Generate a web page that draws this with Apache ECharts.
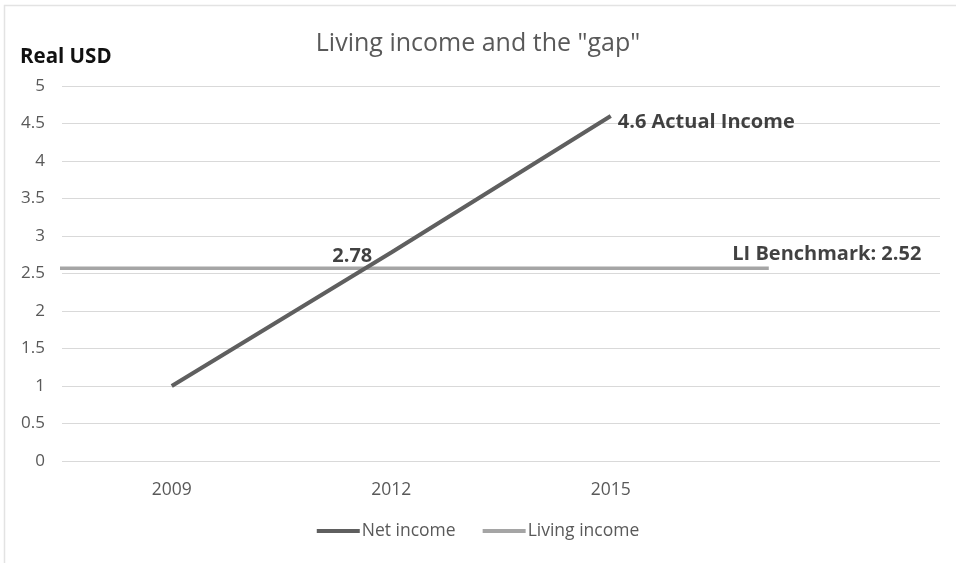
<!DOCTYPE html>
<html><head><meta charset="utf-8">
<script src="https://cdn.jsdelivr.net/npm/echarts@6/dist/echarts.min.js"></script>
<style>html,body{margin:0;padding:0;background:#fff}#c{width:956px;height:563px}</style>
</head><body><div id="c"></div>
<script>
const categories = ['2009', '2012', '2015', ''];
const netIncome = [1.0, 2.78, 4.6];
const livingIncomeLevel = 2.57;
const livingIncomeSpan = [-0.02, 3.22]; // in category units along the x axis
const yTicks = [0, 0.5, 1, 1.5, 2, 2.5, 3, 3.5, 4, 4.5, 5];

const font = '"Open Sans", "Noto Sans", sans-serif';
const chart = echarts.init(document.getElementById('c'));
chart.setOption({
  animation: false,
  backgroundColor: '#fff',
  textStyle: { fontFamily: font },
  graphic: [{ type: 'polyline', shape: { points: [[4.5, 563], [4.5, 5.5], [956, 5.5]] },
    style: { fill: 'none', stroke: '#e3e3e3', lineWidth: 1.5 }, silent: true }],
  title: {
    text: 'Living income and the "gap"', left: 'center', top: 26,
    textStyle: { color: '#595959', fontSize: 25, fontWeight: 'normal', fontFamily: font }
  },
  legend: {
    bottom: 18, left: 'center', itemWidth: 43, itemHeight: 4, itemGap: 27,
    icon: 'rect',
    textStyle: { color: '#595959', fontSize: 17.5, fontFamily: font, padding: [0, 0, 0, -3] },
    data: ['Net income', 'Living income']
  },
  grid: { left: 62, right: 16, top: 86, bottom: 102, containLabel: false },
  xAxis: [{
    type: 'category', data: categories, boundaryGap: true,
    axisLine: { show: false }, axisTick: { show: false },
    axisLabel: { color: '#595959', fontSize: 17.5, margin: 20, fontFamily: font }
  }, {
    type: 'value', min: 0, max: 4, show: false
  }],
  yAxis: {
    type: 'value', min: 0, max: 5, interval: 0.5,
    name: 'Real USD', nameLocation: 'end', nameGap: 18,
    nameTextStyle: { color: '#111', fontSize: 20.5, fontWeight: 'bold', align: 'left', padding: [0, 0, 0, -42], fontFamily: font },
    axisLine: { show: false }, axisTick: { show: false },
    axisLabel: { color: '#595959', fontSize: 17, margin: 17, fontFamily: font,
      formatter: v => yTicks.includes(v) ? String(v) : '' },
    splitLine: { lineStyle: { color: '#d9d9d9', width: 1 } }
  },
  series: [{
    name: 'Net income', type: 'line', xAxisIndex: 0,
    data: netIncome, symbol: 'none',
    lineStyle: { color: '#5f5f5f', width: 4 }, itemStyle: { color: '#5f5f5f' },
    z: 3
  }, {
    name: 'Living income', type: 'line', xAxisIndex: 1,
    data: livingIncomeSpan.map(x => [x, livingIncomeLevel]),
    symbol: 'none',
    lineStyle: { color: '#a5a5a5', width: 3.5 }, itemStyle: { color: '#a5a5a5' },
    z: 2
  }, {
    name: 'labels', type: 'scatter', xAxisIndex: 0, symbolSize: 0,
    silent: true, z: 5,
    data: [
      { value: [1, netIncome[1]], label: { show: true, formatter: String(netIncome[1]), position: 'left', offset: [-14, 4] } },
      { value: [2, netIncome[2]], label: { show: true, formatter: netIncome[2] + ' Actual Income', position: 'right', offset: [2, 6] } }
    ],
    label: { color: '#111', fontSize: 20, fontWeight: 'bold', fontFamily: font }
  }, {
    name: 'labels2', type: 'scatter', xAxisIndex: 1, symbolSize: 0,
    silent: true, z: 5,
    data: [
      { value: [livingIncomeSpan[1], livingIncomeLevel], label: { show: true, formatter: 'LI Benchmark: 2.52', position: 'top', offset: [58, 1] } }
    ],
    label: { color: '#111', fontSize: 20, fontWeight: 'bold', fontFamily: font }
  }]
});
</script></body></html>
